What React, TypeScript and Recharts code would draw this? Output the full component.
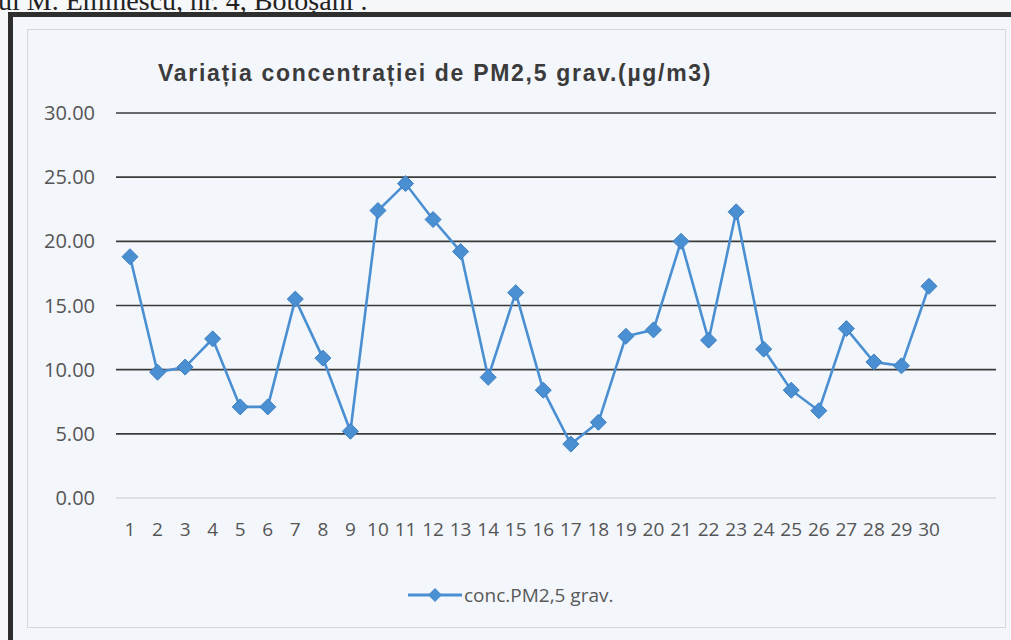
import React from 'react';
import { LineChart, Line, XAxis, YAxis, CartesianGrid, Legend } from 'recharts';

const days = ['1','2','3','4','5','6','7','8','9','10','11','12','13','14','15','16','17','18','19','20','21','22','23','24','25','26','27','28','29','30'];
const concPM25 = [18.8, 9.8, 10.2, 12.4, 7.1, 7.1, 15.5, 10.9, 5.2, 22.4, 24.5, 21.7, 19.2, 9.4, 16.0, 8.4, 4.2, 5.9, 12.6, 13.1, 20.0, 12.3, 22.3, 11.6, 8.4, 6.8, 13.2, 10.6, 10.3, 16.5];
const yTicks = [0, 5, 10, 15, 20, 25, 30];
const gridValues = [5, 10, 15, 20, 25, 30];
const seriesName = 'conc.PM2,5 grav.';
const chartTitle = 'Variația concentrației de PM2,5 grav.(µg/m3)';
const headerText = 'ul M. Eminescu, nr. 4, Botoșani .';

const data = days.map((d, i) => ({ day: d, value: concPM25[i] }));

const LINE_COLOR = '#4a8fd2';
const TICK_FONT = '"Open Sans", "Noto Sans", sans-serif';

const diamondPath = (cx: number, cy: number, r: number) =>
  `M${cx},${cy - r}L${cx + r},${cy}L${cx},${cy + r}L${cx - r},${cy}Z`;

const renderDot = (p: any) => {
  const { cx, cy, index } = p;
  if (cx == null || cy == null) return <g key={`d-${index}`} />;
  return (
    <path
      key={`d-${index}`}
      d={diamondPath(cx, cy, 8)}
      fill={LINE_COLOR}
      stroke="#3d7fc2"
      strokeWidth={1}
    />
  );
};

const LegendContent = () => (
  <div style={{ display: 'flex', alignItems: 'center', fontFamily: TICK_FONT, fontSize: 19, color: '#595959' }}>
    <svg width={54} height={18} style={{ display: 'block' }}>
      <line x1={0} y1={9} x2={54} y2={9} stroke={LINE_COLOR} strokeWidth={3} />
      <path d={diamondPath(27, 9, 7)} fill={LINE_COLOR} />
    </svg>
    <span style={{ marginLeft: 2, whiteSpace: 'nowrap' }}>{seriesName}</span>
  </div>
);

export default function App() {
  return (
    <div style={{ position: 'absolute', left: 0, top: 0, width: 1011, height: 640, overflow: 'hidden', background: '#f6f7f9' }}>
      <div style={{ position: 'absolute', left: -2, top: -15, fontFamily: '"Liberation Serif", "DejaVu Serif", serif', fontSize: 28, color: '#222', whiteSpace: 'nowrap' }}>
        {headerText}
      </div>
      <div style={{ position: 'absolute', left: 8, top: 12, width: 1020, height: 640, boxSizing: 'border-box', border: '5px solid #2e2e2e', background: '#f3f6fb' }} />
      <div style={{ position: 'absolute', left: 27, top: 29, width: 979, height: 599, boxSizing: 'border-box', border: '1px solid #d4d8de', background: '#f3f6fb' }} />
      <div style={{ position: 'absolute', left: 158, top: 60, fontFamily: '"Liberation Sans", Arial, sans-serif', fontWeight: 'bold', fontSize: 23, color: '#3b3b3b', whiteSpace: 'nowrap', letterSpacing: 1.7 }}>
        {chartTitle}
      </div>
      <div style={{ position: 'absolute', left: 0, top: 0 }}>
        <LineChart width={1011} height={640} data={data} margin={{ top: 113, right: 15, bottom: 112, left: 0 }}>
          <CartesianGrid vertical={false} horizontalValues={gridValues} stroke="#3a3a3a" strokeWidth={1.6} />
          <XAxis
            dataKey="day"
            interval={0}
            padding={{ left: 14, right: 67 }}
            tickLine={false}
            tickSize={0}
            tickMargin={25}
            axisLine={{ stroke: '#d6d9de', strokeWidth: 1.5 }}
            tick={{ fill: '#555555', fontSize: 19, fontFamily: TICK_FONT }}
          />
          <YAxis
            width={116}
            domain={[0, 30]}
            ticks={yTicks}
            interval={0}
            axisLine={false}
            tickLine={false}
            tickSize={0}
            tickMargin={21}
            tickFormatter={(v: number) => v.toFixed(2)}
            tick={{ fill: '#555555', fontSize: 20, fontFamily: TICK_FONT }}
          />
          <Legend
            layout="horizontal"
            verticalAlign="middle"
            align="center"
            wrapperStyle={{ left: 408, top: 582, width: 260, height: 20 }}
            content={() => <LegendContent />}
          />
          <Line
            type="linear"
            dataKey="value"
            name={seriesName}
            stroke={LINE_COLOR}
            strokeWidth={2.6}
            dot={renderDot}
            activeDot={false}
            isAnimationActive={false}
          />
        </LineChart>
      </div>
    </div>
  );
}
